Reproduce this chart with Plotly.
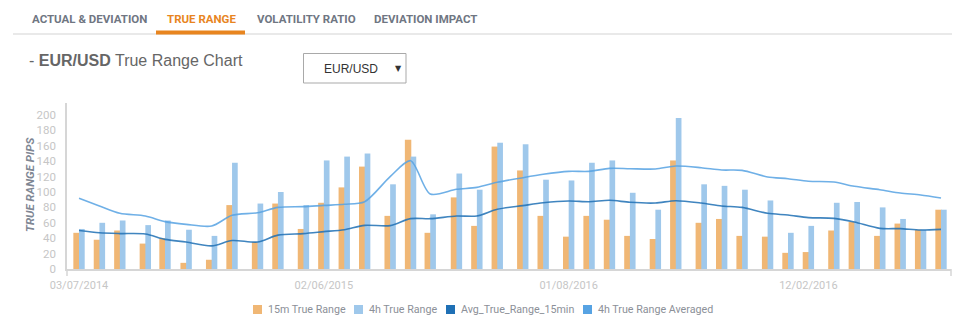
import plotly.graph_objects as go

# ---------------- data ----------------
dates = ["2014-03-07", "2014-04-04", "2014-05-02", "2014-06-06", "2014-07-03", "2014-08-01",
         "2014-09-05", "2014-10-03", "2014-11-07", "2014-12-05", "2015-01-09", "2015-02-06",
         "2015-03-06", "2015-04-03", "2015-05-08", "2015-06-05", "2015-07-02", "2015-08-07",
         "2015-09-04", "2015-10-02", "2015-11-06", "2015-12-04", "2016-01-08", "2016-02-05",
         "2016-03-04", "2016-04-01", "2016-05-06", "2016-06-03", "2016-07-08", "2016-08-05",
         "2016-09-02", "2016-10-07", "2016-11-04", "2016-12-02", "2017-01-06", "2017-02-03",
         "2017-03-10", "2017-04-07", "2017-05-05", "2017-06-02"]

tr_15m = [47, 38, 50, 33, 40, 8, 12, 83, 35, 85,
          52, 86, 106, 133, 69, 168, 47, 93, 56, 159,
          128, 69, 42, 69, 64, 43, 39, 141, 60, 65,
          43, 42, 21, 22, 50, 61, 43, 59, 51, 77]

tr_4h = [52, 60, 63, 57, 63, 51, 43, 138, 85, 100,
         83, 141, 146, 150, 110, 146, 71, 124, 103, 164,
         162, 116, 115, 138, 141, 99, 77, 196, 110, 108,
         103, 89, 47, 56, 86, 87, 80, 65, 51, 77]

avg_15m = [50, 47, 46, 45.5, 38.5, 35, 30, 37, 35, 44,
           46, 48.5, 51, 56.7, 56.3, 65.4, 65.4, 68.8, 68.8, 77.5,
           82.3, 86, 88.3, 87.4, 89.2, 86.6, 85.7, 88.7, 85.7, 81.8,
           80, 72.3, 70.1, 66.7, 65.8, 61, 52.8, 52.4, 50.6, 51.5]

avg_4h = [91.8, 81.8, 72.3, 68.8, 61.5, 58, 55.8, 69.7, 73, 80,
          81, 82.6, 84, 87.4, 120, 140.7, 97.4, 103.5, 106, 112.6,
          118.6, 123, 126.8, 126.8, 130.7, 130.3, 129.9, 133.8, 131.6, 128.6,
          128.1, 119.5, 117.3, 113.9, 113, 107.4, 103, 98.7, 96.1, 92.2]

series_names = ["15m True Range", "4h True Range", "Avg_True_Range_15min", "4h True Range Averaged"]
tick_dates = ["2014-03-07", "2015-02-06", "2016-01-08", "2016-12-02"]
tick_labels = ["03/07/2014", "02/06/2015", "01/08/2016", "12/02/2016"]
y_ticks = list(range(0, 201, 20))
tabs = ["ACTUAL & DEVIATION", "TRUE RANGE", "VOLATILITY RATIO", "DEVIATION IMPACT"]

# ---------------- style ----------------
C_OR = "#F0B775"
C_LB = "#9FC8EB"
C_DB = "#1F70B5"
C_MB = "#57A3E3"
FONT = "Roboto"

W, H = 973, 331
L, R, T, B = 67, 22, 103, 62
PW, PH = W - L - R, H - T - B


def px(x):
    return (x - L) / PW


def py(y):
    return (H - B - y) / PH


DAY = 86400000
bw = 7.8 * DAY

fig = go.Figure()
fig.add_trace(go.Bar(x=dates, y=tr_15m, name=series_names[0], marker=dict(color=C_OR, line=dict(width=0)),
                     width=bw + DAY, offset=-bw, showlegend=False))
fig.add_trace(go.Bar(x=dates, y=tr_4h, name=series_names[1], marker=dict(color=C_LB, line=dict(width=0)),
                     width=bw, offset=0, showlegend=False))
fig.add_trace(go.Scatter(x=dates, y=avg_15m, name=series_names[2], mode="lines",
                         line=dict(color=C_DB, width=1.6, shape="spline", smoothing=0.8),
                         opacity=0.85, showlegend=False))
fig.add_trace(go.Scatter(x=dates, y=avg_4h, name=series_names[3], mode="lines",
                         line=dict(color=C_MB, width=1.6, shape="spline", smoothing=0.8),
                         opacity=0.85, showlegend=False))

fig.update_layout(
    width=W, height=H,
    margin=dict(l=L, r=R, t=T, b=B),
    paper_bgcolor="white", plot_bgcolor="white",
    barmode="overlay",
    font=dict(family=FONT, size=11, color="#8c9098"),
    showlegend=False,
    xaxis=dict(type="date", range=["2014-02-18 12:00", "2017-06-15 17:00"],
               tickvals=tick_dates, ticktext=tick_labels,
               showgrid=False, zeroline=False, showline=True, linecolor="#d6d6d6", linewidth=2,
               ticks="", tickfont=dict(family=FONT, size=11, color="#c6c6c6"),
               ticklabelstandoff=5),
    yaxis=dict(range=[0, 215.6], tickvals=y_ticks, showgrid=False, zeroline=False,
               showline=True, linecolor="#d6d6d6", linewidth=1.5, ticks="",
               tickfont=dict(family=FONT, size=11.5, color="#c6c6c6"), ticklabelstandoff=7),
)

shapes = []
# small end ticks on x axis
for xv in (0, 1):
    shapes.append(dict(type="line", xref="paper", yref="paper", x0=xv, x1=xv,
                       y0=0, y1=py(276), line=dict(color="#d6d6d6", width=1.5)))
# tab bar separator and active underline
shapes.append(dict(type="line", xref="paper", yref="paper", x0=px(13), x1=px(952),
                   y0=py(34), y1=py(34), line=dict(color="#e2e2e2", width=1.5)))
shapes.append(dict(type="rect", xref="paper", yref="paper", x0=px(156), x1=px(245),
                   y0=py(34.5), y1=py(30.5), fillcolor="#E8851F", line=dict(width=0)))
# dropdown box
shapes.append(dict(type="rect", xref="paper", yref="paper", x0=px(303.5), x1=px(406),
                   y0=py(83), y1=py(53.5), fillcolor="white", line=dict(color="#a9a9a9", width=1)))

ann = []
# legend (swatch + label)
leg_sq = [253, 354, 446, 583]
for nm, col, x0 in zip(series_names, [C_OR, C_LB, C_DB, C_MB], leg_sq):
    shapes.append(dict(type="rect", xref="paper", yref="paper", x0=px(x0), x1=px(x0 + 9),
                       y0=py(314), y1=py(305), fillcolor=col, line=dict(width=0)))
    ann.append(dict(text=nm, xref="paper", yref="paper", x=px(x0 + 12.5), y=py(309.5),
                    xanchor="left", yanchor="middle", showarrow=False,
                    font=dict(family=FONT, size=10.7, color="#8c9098")))
fig.update_layout(shapes=shapes)

tab_left = [30, 165, 255, 372]
for t, xl in zip(tabs, tab_left):
    ann.append(dict(text=t, xref="paper", yref="paper", x=px(xl), y=py(18.5),
                    xanchor="left", yanchor="middle", showarrow=False,
                    font=dict(family=FONT, size=11.5, weight="bold",
                              color="#E8851F" if t == "TRUE RANGE" else "#6f7682")))
ann.append(dict(text="- <b>EUR/USD</b> True Range Chart", xref="paper", yref="paper",
                x=px(27), y=py(60), xanchor="left", yanchor="middle", showarrow=False,
                font=dict(family="Liberation Sans", size=16, color="#666666")))
ann.append(dict(text="EUR/USD", xref="paper", yref="paper", x=px(322), y=py(68.5),
                xanchor="left", yanchor="middle", showarrow=False,
                font=dict(family="Liberation Sans", size=12, color="#333333")))
ann.append(dict(text="▼", xref="paper", yref="paper", x=px(398), y=py(68),
                xanchor="center", yanchor="middle", showarrow=False,
                font=dict(family="DejaVu Sans", size=8, color="#333333")))
ann.append(dict(text="TRUE RANGE PIPS", xref="paper", yref="paper", x=px(30), y=py(185),
                xanchor="center", yanchor="middle", textangle=-90, showarrow=False,
                font=dict(family=FONT, size=11.5, weight="bold", style="italic", color="#7f8794")))
fig.update_layout(annotations=ann)

fig.write_html("out.html")
